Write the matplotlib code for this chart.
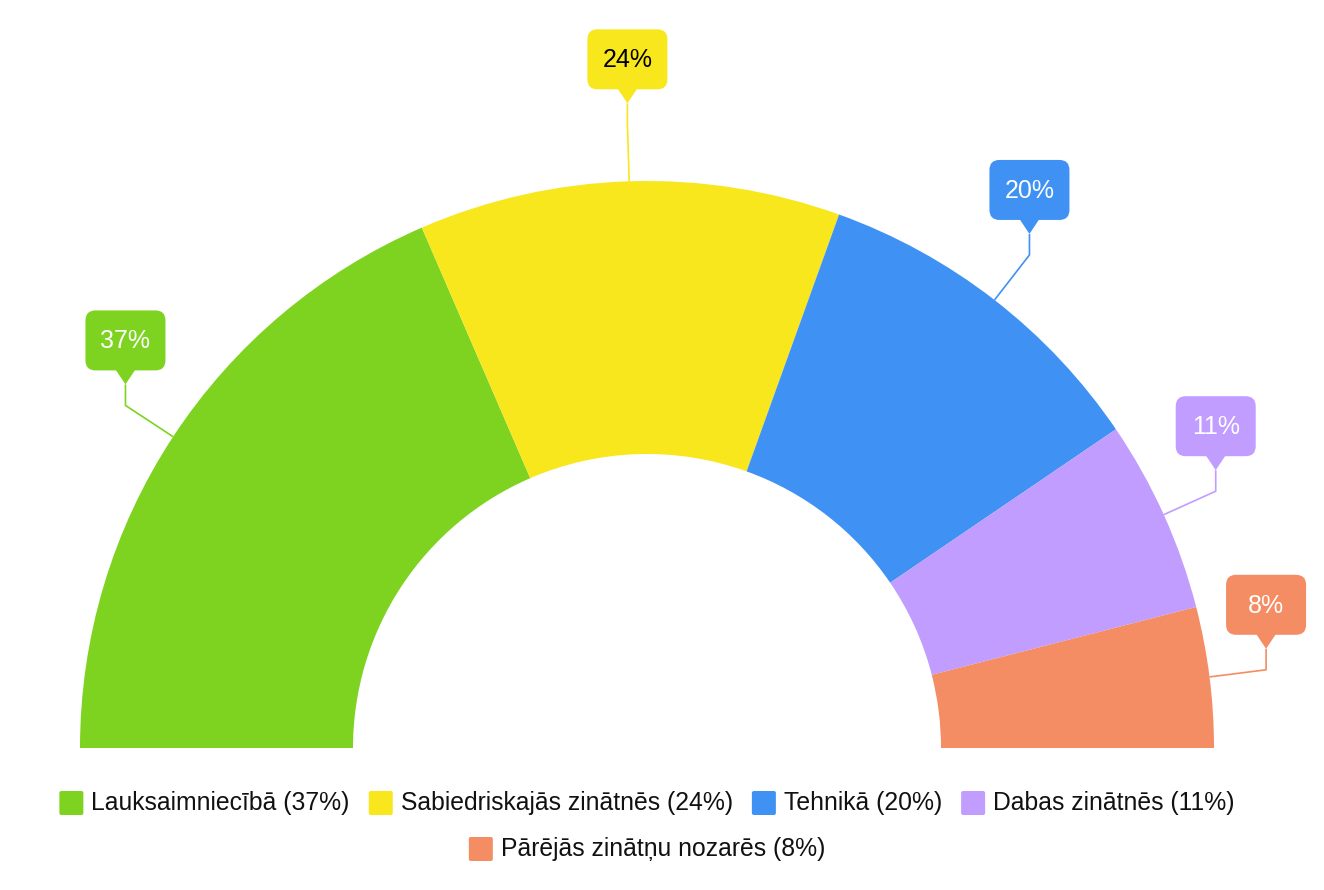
import numpy as np
import matplotlib
matplotlib.use("Agg")
import matplotlib.pyplot as plt
from matplotlib.patches import FancyBboxPatch, Polygon

# ---- data ----
categories = ["Lauksaimniecībā", "Sabiedriskajās zinātnēs", "Tehnikā",
              "Dabas zinātnēs", "Pārējās zinātņu nozarēs"]
values = [37, 24, 20, 11, 8]
colors = ["#7ED321", "#F8E71C", "#3F92F4", "#C09DFF", "#F48C64"]
label_text_colors = ["white", "black", "white", "white", "white"]

plt.rcParams['font.family'] = ['Liberation Sans', 'DejaVu Sans']

W, H = 1324, 890
fig = plt.figure(figsize=(W / 100, H / 100), dpi=100)
ax = fig.add_axes([0, 0, 1, 1])

cx, cy = 647, H - 748
R, r_in = 567, 294

total = sum(values)
wedges, _ = ax.pie(values + [total], startangle=180, counterclock=False,
                   radius=R, center=(cx, cy),
                   colors=colors + ["none"],
                   wedgeprops=dict(width=R - r_in, linewidth=0))

ax.set_xlim(0, W)
ax.set_ylim(0, H)
ax.set_aspect('equal')
ax.axis('off')

# ---- callout labels ----
elbow_r = 624
tip_up = 21
box_w, box_h = 80, 60
ptr_h, ptr_hw = 14, 10
for w, v, col, tcol in zip(wedges[:len(values)], values, colors, label_text_colors):
    mid = np.deg2rad((w.theta1 + w.theta2) / 2)
    ex, ey = cx + R * np.cos(mid), cy + R * np.sin(mid)
    bx, by = cx + elbow_r * np.cos(mid), cy + elbow_r * np.sin(mid)
    tx, ty = bx, by + tip_up
    ax.plot([ex, bx, tx], [ey, by, ty], color=col, lw=1.2, solid_capstyle='butt', zorder=3)
    ax.add_patch(Polygon([[tx - ptr_hw, ty + ptr_h + 1], [tx + ptr_hw, ty + ptr_h + 1], [tx, ty]],
                         closed=True, facecolor=col, edgecolor='none', zorder=4))
    ax.add_patch(FancyBboxPatch((tx - box_w / 2, ty + ptr_h), box_w, box_h,
                                boxstyle="round,pad=0,rounding_size=10",
                                facecolor=col, edgecolor='none', zorder=4))
    ax.text(tx, ty + ptr_h + box_h / 2 - 1, f"{v}%", ha='center', va='center',
            fontsize=18, color=tcol, zorder=5)

# ---- legend (manual, centered rows) ----
fig.canvas.draw()
renderer = fig.canvas.get_renderer()
leg_fs = 17.8
sq = 24
gap_sq_txt = 8
gap_items = 19
rows = [[0, 1, 2, 3], [4]]
row_y = [H - 803, H - 849]

for idxs, yc in zip(rows, row_y):
    labels = [f"{categories[i]} ({values[i]}%)" for i in idxs]
    widths = []
    for lab in labels:
        t = ax.text(0, 0, lab, fontsize=leg_fs)
        bb = t.get_window_extent(renderer=renderer)
        widths.append(bb.width)
        t.remove()
    total_w = sum(sq + gap_sq_txt + wd for wd in widths) + gap_items * (len(labels) - 1)
    x = cx - total_w / 2
    for i, lab, wd in zip(idxs, labels, widths):
        ax.add_patch(FancyBboxPatch((x, yc - sq / 2), sq, sq,
                                    boxstyle="round,pad=0,rounding_size=2",
                                    facecolor=colors[i], edgecolor='none'))
        ax.text(x + sq + gap_sq_txt, yc, lab, fontsize=leg_fs, ha='left', va='center',
                color='#111111')
        x += sq + gap_sq_txt + wd + gap_items

fig.savefig("out.png", dpi=100, facecolor='white')
